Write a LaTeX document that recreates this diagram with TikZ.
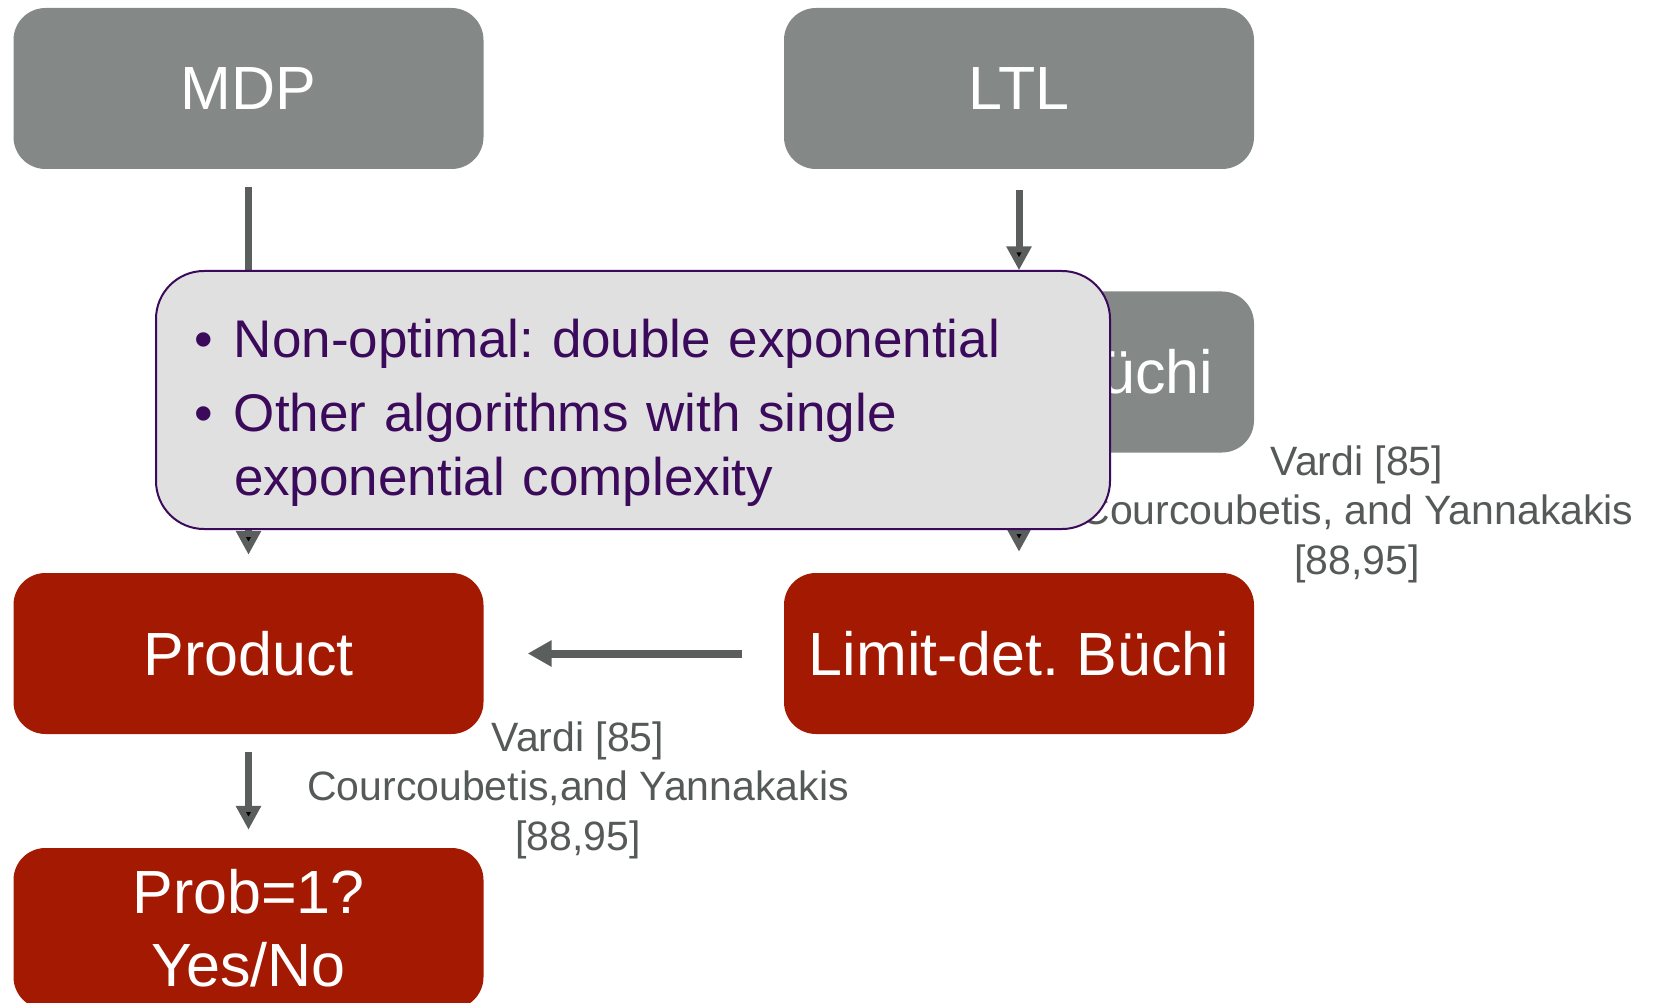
\documentclass[tikz,border=0pt]{standalone}
\usepackage{fontspec}
\setmainfont{Liberation Sans}
\usetikzlibrary{arrows.meta,positioning}

\definecolor{boxgray}{RGB}{132,137,135}
\definecolor{boxred}{RGB}{164,25,2}
\definecolor{notefill}{RGB}{224,224,225}
\definecolor{notepurple}{RGB}{60,10,90}
\definecolor{arrowgray}{RGB}{90,95,93}
\definecolor{citegray}{RGB}{85,90,88}

\begin{document}
\frenchspacing
\begin{tikzpicture}[x=1pt,y=-1pt,
   blk/.style={rectangle,rounded corners=32pt,minimum width=470pt,minimum height=161pt,
      inner sep=0pt,text=white,font=\fontsize{61}{73}\selectfont,align=center},
   given/.style={blk,fill=boxgray},
   result/.style={blk,fill=boxred},
   flow/.style={draw=arrowgray,line width=7pt,-{Triangle[length=24pt,width=24pt]},
      shorten <=18pt,shorten >=18pt},
   cite/.style={text=citegray,font=\fontsize{41}{49.6}\selectfont,align=center},
   note/.style={rectangle,rounded corners=48pt,fill=notefill,draw=notepurple,line width=2pt,
      text=notepurple,font=\fontsize{53}{64.5}\selectfont,align=left,
      text width=798pt,inner xsep=78pt,minimum height=258pt}]
   \path[use as bounding box,clip] (0,0) rectangle (1658,1003);

   % the boxes
   \node[given]  (mdp)     at (248.5,88.5) {MDP};
   \node[given]  (ltl)     at (1019,88.5)  {LTL};
   \node[given,text width=388pt,align=right] (buchi) at (1019,372) {Büchi};
   \node[result] (product) at (248.5,653.5) {Product};
   \node[result] (ldba)    at (1019,653.5) {Limit-det. Büchi};
   \node[result] (prob)    at (248.5,928.5) {Prob=1?\\Yes/No};

   % the steps
   \path[flow] (mdp) edge (product)
               (ltl) edge[shorten <=21pt,shorten >=21pt] (buchi)
               (buchi) edge[shorten >=21pt] (ldba)
               (product) edge (prob);
   \draw[flow,line width=8pt,-{Triangle[length=24pt,width=25pt]},shorten <=42pt,shorten >=44pt]
      (ldba) -- (product);

   \node[cite] (citeR) at (1357,514) {Vardi [85]\\Courcoubetis, and Yannakakis\\{}[88,95]};

   % the remark on top
   \node[note] (remark) at (633,400)
      {\leavevmode\rule{0pt}{64pt}\llap{•\hspace{21pt}}Non-optimal: double exponential\\[9.5pt]%
       \leavevmode\llap{•\hspace{21pt}}Other algorithms with single\\%
       exponential complexity};

   \node[cite] (citeL) at (578,790) {Vardi [85]\\Courcoubetis,and Yannakakis\\{}[88,95]};
\end{tikzpicture}
\end{document}
